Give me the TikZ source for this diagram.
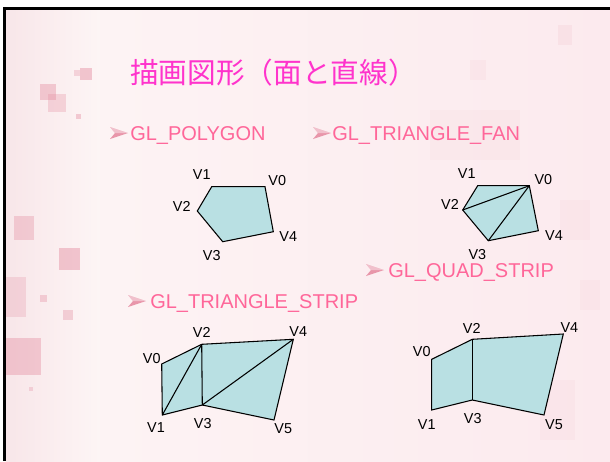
\documentclass[tikz,border=0pt]{standalone}
\usepackage{fontspec}
\setmainfont{Liberation Sans}
\newfontfamily\cjk{Noto Sans CJK JP}
\definecolor{titlepink}{RGB}{255,51,204}
\definecolor{subpink}{RGB}{255,102,153}
\definecolor{polyfill}{RGB}{185,224,227}
\definecolor{bgpink}{RGB}{253,245,245}
\definecolor{bgright}{RGB}{252,234,238}
\definecolor{stripink}{RGB}{248,230,233}
\definecolor{deco}{RGB}{228,140,160}
\definecolor{bulletpink}{RGB}{232,150,170}
\tikzset{
  vlabel/.style={font=\fontsize{10.8pt}{12pt}\selectfont, inner sep=0pt, text=black},
  sublabel/.style={font=\fontsize{15pt}{18pt}\selectfont, text=subpink, anchor=base west, inner sep=0pt},
  shapefill/.style={fill=polyfill, draw=black, line width=0.8pt, line join=miter},
  inner/.style={draw=black, line width=0.8pt},
  decosq/.style={fill=deco, opacity=#1},
  bulletpic/.pic={\fill[bulletpink] (0,-6) -- (18,0) -- (0,6) -- (5,0) -- cycle;
                  \fill[white, opacity=0.4] (0,-6) -- (18,0) -- (5,0) -- cycle;}
}
\begin{document}
\begin{tikzpicture}[x=0.75pt,y=-0.75pt]
\useasboundingbox (0,0) rectangle (610,461);
\fill[white] (0,0) rectangle (610,461);
% slide background
\shade[left color=bgpink, right color=bgright] (4.5,8.5) rectangle (610,461);
\shade[left color=stripink, right color=bgpink] (6,10) rectangle (100,461);
% decorative squares
\fill[decosq=0.45] (80,68) rectangle (92,80);
\fill[decosq=0.3] (74,70) rectangle (80,76);
\fill[decosq=0.4] (40,84) rectangle (56,100);
\fill[decosq=0.3] (48,94) rectangle (66,112);
\fill[decosq=0.4] (76,114) rectangle (81,119);
\fill[decosq=0.35] (14,216) rectangle (34,240);
\fill[decosq=0.45] (59,248) rectangle (80,270);
\fill[decosq=0.25] (6,277) rectangle (26,317);
\fill[decosq=0.35] (40,295) rectangle (47,302);
\fill[decosq=0.35] (63,310) rectangle (73,320);
\fill[decosq=0.4] (6,338) rectangle (41,375);
\fill[decosq=0.3] (29,387) rectangle (33,391);
\fill[decosq=0.1] (558,25) rectangle (572,45);
\fill[decosq=0.07] (470,60) rectangle (486,80);
\fill[decosq=0.05] (430,110) rectangle (520,160);
\fill[decosq=0.06] (560,200) rectangle (590,240);
\fill[decosq=0.06] (580,280) rectangle (600,310);
\fill[decosq=0.06] (540,380) rectangle (575,440);
% border
\draw[black, line width=2.25pt] (4.5,461) -- (4.5,8.5) -- (610,8.5);

% title
\node[anchor=base west, inner sep=0pt, text=titlepink, font=\cjk\fontsize{21.5pt}{25pt}\selectfont] (title) at (130,83) {描画図形（面と直線）};

% section labels
\pic at (110,133) {bulletpic};
\node[sublabel] (poly) at (130,140) {GL\_POLYGON};
\pic at (313,133) {bulletpic};
\node[sublabel] (fan) at (332,140) {GL\_TRIANGLE\_FAN};
\pic at (366,270) {bulletpic};
\node[sublabel] (quad) at (388,277) {GL\_QUAD\_STRIP};
\pic at (128,301) {bulletpic};
\node[sublabel] (tstrip) at (150,308) {GL\_TRIANGLE\_STRIP};

% GL_POLYGON
\coordinate (p0) at (265,186.7);
\coordinate (p1) at (211.7,186.7);
\coordinate (p2) at (197.3,211);
\coordinate (p3) at (222.7,241.7);
\coordinate (p4) at (273.3,231.7);
\draw[shapefill] (p0) -- (p1) -- (p2) -- (p3) -- (p4) -- cycle;
\node[vlabel] (lp1) at (201.7,175) {V1};
\node[vlabel] (lp0) at (277.3,180.7) {V0};
\node[vlabel] (lp2) at (181.7,206) {V2};
\node[vlabel] (lp4) at (288.3,236.7) {V4};
\node[vlabel] (lp3) at (211.7,256) {V3};

% GL_TRIANGLE_FAN
\coordinate (f0) at (529.3,185.7);
\coordinate (f1) at (477.7,185.7);
\coordinate (f2) at (462.7,210);
\coordinate (f3) at (488.3,240.7);
\coordinate (f4) at (538.3,230.7);
\draw[shapefill] (f0) -- (f1) -- (f2) -- (f3) -- (f4) -- cycle;
\draw[inner] (f0) -- (f2);
\draw[inner] (f0) -- (f3);
\node[vlabel] (lf1) at (466.7,174) {V1};
\node[vlabel] (lf0) at (543.3,180) {V0};
\node[vlabel] (lf2) at (450,204) {V2};
\node[vlabel] (lf4) at (554,236) {V4};
\node[vlabel] (lf3) at (477.3,255) {V3};

% GL_TRIANGLE_STRIP
\coordinate (t0) at (161.7,364);
\coordinate (t1) at (162.3,415);
\coordinate (t2) at (201.7,344.3);
\coordinate (t3) at (202.3,405);
\coordinate (t4) at (293.3,339.3);
\coordinate (t5) at (274,420);
\draw[shapefill] (t0) -- (t2) -- (t4) -- (t5) -- (t3) -- (t1) -- cycle;
\draw[inner] (t1) -- (t2);
\draw[inner] (t2) -- (t3);
\draw[inner] (t3) -- (t4);
\node[vlabel] (lt0) at (151.7,358.3) {V0};
\node[vlabel] (lt2) at (201.7,332.7) {V2};
\node[vlabel] (lt4) at (298.3,331.7) {V4};
\node[vlabel] (lt1) at (156,427.3) {V1};
\node[vlabel] (lt3) at (202.7,423.3) {V3};
\node[vlabel] (lt5) at (283.3,428.3) {V5};

% GL_QUAD_STRIP
\coordinate (q0) at (431.7,359.3);
\coordinate (q1) at (431.7,410);
\coordinate (q2) at (472.3,339.3);
\coordinate (q3) at (472.3,400);
\coordinate (q4) at (563.3,334);
\coordinate (q5) at (544,415);
\draw[shapefill] (q0) -- (q2) -- (q4) -- (q5) -- (q3) -- (q1) -- cycle;
\draw[inner] (q2) -- (q3);
\node[vlabel] (lq0) at (421.7,351.7) {V0};
\node[vlabel] (lq2) at (471.7,328.3) {V2};
\node[vlabel] (lq4) at (569.3,327.3) {V4};
\node[vlabel] (lq1) at (426.7,425) {V1};
\node[vlabel] (lq3) at (472.7,418.3) {V3};
\node[vlabel] (lq5) at (554,425) {V5};
\end{tikzpicture}
\end{document}
